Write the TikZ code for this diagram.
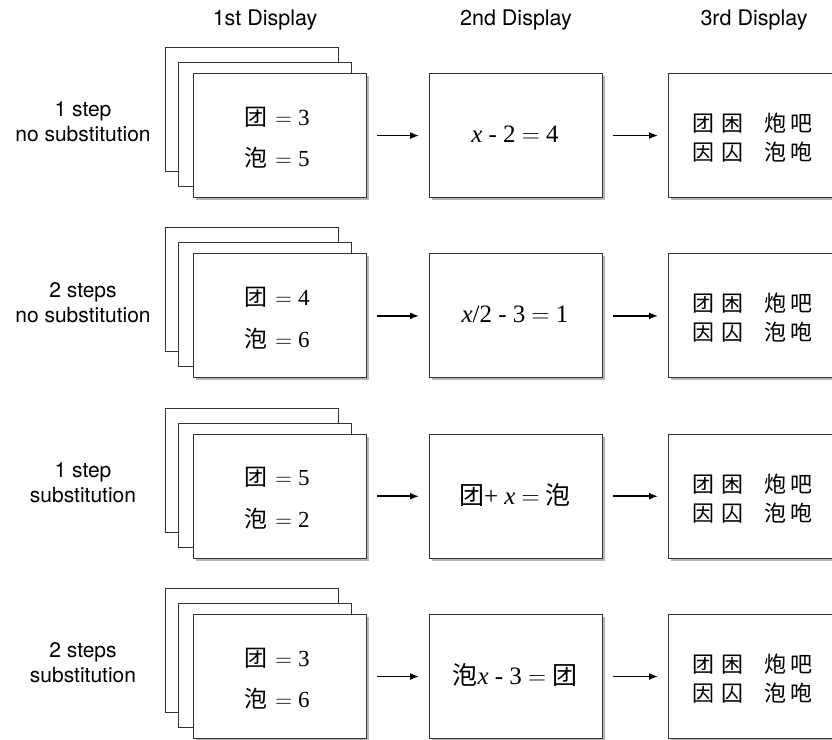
\documentclass[tikz,border=0pt]{standalone}
\usepackage{fontspec}
\setmainfont{Liberation Serif}
\setsansfont{TeX Gyre Heros}
\newfontfamily\cjk{Noto Sans CJK SC}
\newfontfamily\lmr{Latin Modern Roman}
\newcommand\eqs{{\lmr =}}
\usetikzlibrary{shadows,arrows.meta}
\tikzset{
 card/.style={draw=black!80, line width=1.1pt, fill=white, minimum width=173pt, minimum height=124pt, inner sep=0pt, anchor=north west},
 shcard/.style={card, drop shadow={shadow xshift=2.5pt, shadow yshift=-2.5pt, opacity=0.4, fill=black!70}},
 lbl/.style={font=\sffamily\fontsize{21}{25}\selectfont, align=center},
 hdr/.style={font=\sffamily\fontsize{21.5}{25}\selectfont},
 boxtxt/.style={font=\fontsize{23}{26}\selectfont, inner sep=0pt},
 eqtxt/.style={font=\fontsize{25}{28}\selectfont, inner sep=0pt},
 cjktxt/.style={font=\cjk\fontsize{22}{26}\selectfont, inner sep=0pt, anchor=west},
 arr/.style={line width=1.5pt, -{Latex[length=9pt,width=7pt]}, shorten <=10pt, shorten >=10pt}
}
\newcommand\mkrow[6]{%
 \node[card] (b#1) at (165,{47+#2}) {};
 \node[card] (m#1) at (178,{62+#2}) {};
 \node[shcard] (f#1) at (193,{73+#2}) {};
 \node[boxtxt] (fa#1) at (277,{117+#2}) {#4};
 \node[boxtxt] (fb#1) at (277,{158+#2}) {#5};
 \node[shcard] (s#1) at (429,{73+#2}) {};
 \node[eqtxt] (se#1) at (515,{134+#2}) {#6};
 \node[shcard] (t#1) at (668,{73+#2}) {};
 \node[cjktxt] (ta#1) at (692,{123+#2}) {团\hspace{7pt}困\hspace{21pt}炮\hspace{4pt}吧};
 \node[cjktxt] (tb#1) at (692,{152+#2}) {因\hspace{7pt}囚\hspace{21pt}泡\hspace{4pt}咆};
 \node[lbl] (l#1) at (83,{122+#2}) {#3};
 \draw[arr] (f#1) -- (s#1);
 \draw[arr] (s#1) -- (t#1);
}
\newcommand\fl[2]{{\cjk #1}\hspace{8pt}\eqs\hspace{6pt}#2}
\begin{document}
\begin{tikzpicture}[x=1pt,y=-1pt]
\useasboundingbox (0,0) rectangle (832,739);
\clip (0,0) rectangle (832,739);
\fill[white] (0,0) rectangle (832,739);
\node[hdr] (h1) at (265,20) {1st Display};
\node[hdr] (h2) at (516,20) {2nd Display};
\node[hdr] (h3) at (754,20) {3rd Display};
\mkrow{1}{0}{1 step\\no substitution}{\fl{团}{3}}{\fl{泡}{5}}{\textit{x} - 2 \eqs{} 4}
\mkrow{2}{180.33}{2 steps\\no substitution}{\fl{团}{4}}{\fl{泡}{6}}{\textit{x}/2 - 3 \eqs{} 1}
\mkrow{3}{360.67}{1 step\\substitution}{\fl{团}{5}}{\fl{泡}{2}}{{\cjk 团}+ \textit{x} \eqs{} {\cjk 泡}}
\mkrow{4}{541}{2 steps\\substitution}{\fl{团}{3}}{\fl{泡}{6}}{{\cjk 泡}\textit{x} - 3 \eqs{} {\cjk 团}}
\end{tikzpicture}
\end{document}
